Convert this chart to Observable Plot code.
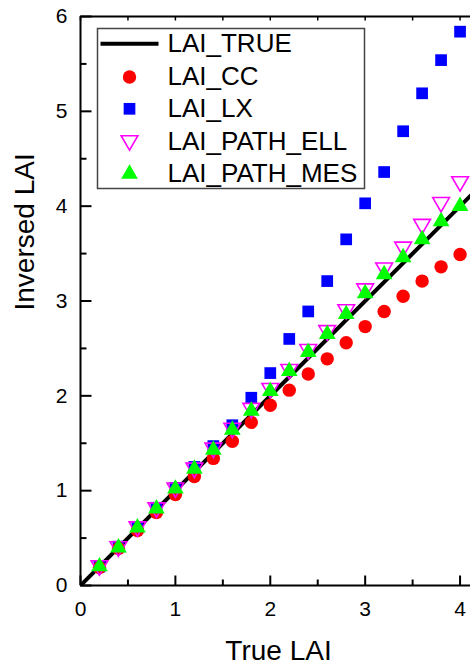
<!DOCTYPE html>
<html><head><meta charset="utf-8">
<script src="https://cdn.jsdelivr.net/npm/d3@7"></script>
<script src="https://cdn.jsdelivr.net/npm/@observablehq/plot@0.6"></script>
<style>body{margin:0;background:#fff}</style>
</head><body><div id="chart"></div>
<script>
// ---- data ----
const trueLAI = [0.2,0.4,0.6,0.8,1.0,1.2,1.4,1.6,1.8,2.0,2.2,2.4,2.6,2.8,3.0,3.2,3.4,3.6,3.8,4.0];
const laiCC   = [0.19,0.39,0.58,0.77,0.96,1.15,1.34,1.52,1.72,1.90,2.06,2.23,2.39,2.56,2.73,2.89,3.05,3.21,3.36,3.49];
const laiLX   = [0.20,0.41,0.61,0.82,1.03,1.25,1.47,1.69,1.98,2.24,2.60,2.89,3.21,3.65,4.03,4.36,4.79,5.19,5.54,5.84];
const laiEll  = [0.21,0.41,0.62,0.82,1.03,1.24,1.45,1.66,1.87,2.08,2.28,2.49,2.69,2.91,3.13,3.35,3.57,3.81,4.04,4.26];
const laiMes  = [0.20,0.40,0.61,0.81,1.02,1.23,1.43,1.64,1.84,2.05,2.26,2.46,2.65,2.86,3.08,3.28,3.46,3.65,3.84,4.00];
const trueLine = [0, 4.2];
const xDomain = [0, 4.11];
const yDomain = [0, 6];
const xTicks = [0,1,2,3,4];
const xMinor = [0.5,1.5,2.5,3.5];
const yTicks = [0,1,2,3,4,5,6];
const yMinor = [0.5,1.5,2.5,3.5,4.5,5.5];
const legendLabels = ["LAI_TRUE","LAI_CC","LAI_LX","LAI_PATH_ELL","LAI_PATH_MES"];
const xTitle = "True LAI";
const yTitle = "Inversed LAI";

const rows = trueLAI.map((t,i)=>({t, cc: laiCC[i], lx: laiLX[i], ell: laiEll[i], mes: laiMes[i]}));

// custom segment symbols (for inward ticks and legend line)
const seg = (x1,y1,x2,y2)=>({draw(ctx){ctx.moveTo(x1,y1); ctx.lineTo(x2,y2);}});

const font = "'Liberation Sans', Arial, sans-serif";

const chart = Plot.plot({
  width: 470, height: 666,
  marginLeft: 80, marginRight: 0, marginTop: 16, marginBottom: 81,
  style: {fontFamily: font, background: "white", color: "black"},
  x: {domain: xDomain},
  y: {domain: yDomain},
  marks: [
    // data
    Plot.line(trueLine, {x: d=>d, y: d=>d, stroke: "black", strokeWidth: 4, clip: true}),
    Plot.dot(rows, {x: "t", y: "lx", symbol: "square", r: 6.6, fill: "#0000ff", stroke: "none"}),
    Plot.dot(rows, {x: "t", y: "cc", symbol: "circle", r: 6.7, fill: "#ff0000", stroke: "none"}),
    Plot.dot(rows, {x: "t", y: "ell", symbol: "triangle", rotate: 180, r: 6.2, fill: "none", stroke: "#ff00ff", strokeWidth: 1.6}),
    Plot.dot(rows, {x: "t", y: "mes", symbol: "triangle", r: 6.2, fill: "#00ff00", stroke: "none"}),

    // frame lines
    Plot.ruleX([xDomain[0]], {stroke: "black", strokeWidth: 2}),
    Plot.ruleY([yDomain[0]], {stroke: "black", strokeWidth: 2}),
    Plot.ruleY([yDomain[1]], {stroke: "black", strokeWidth: 2}),

    // inward ticks
    Plot.dot(yTicks, {x: xDomain[0], y: d=>d, symbol: seg(0,0,11,0), r: 1, fill: "none", stroke: "black", strokeWidth: 2}),
    Plot.dot(yMinor, {x: xDomain[0], y: d=>d, symbol: seg(0,0,6,0), r: 1, fill: "none", stroke: "black", strokeWidth: 2}),
    Plot.dot(xTicks, {x: d=>d, y: yDomain[0], symbol: seg(0,0,0,-10), r: 1, fill: "none", stroke: "black", strokeWidth: 2}),
    Plot.dot(xMinor, {x: d=>d, y: yDomain[0], symbol: seg(0,0,0,-6), r: 1, fill: "none", stroke: "black", strokeWidth: 2}),
    Plot.dot(xTicks.concat(xMinor), {x: d=>d, y: yDomain[1], symbol: seg(0,0,0,4), r: 1, fill: "none", stroke: "black", strokeWidth: 1.5}),

    // tick labels
    Plot.axisX({ticks: xTicks, tickSize: 0, tickPadding: 16, fontSize: 21, label: null, tickFormat: d=>String(d)}),
    Plot.axisY({ticks: yTicks, tickSize: 0, tickPadding: 13, fontSize: 21, label: null, tickFormat: d=>String(d)}),

    // axis titles
    Plot.text([xTitle], {frameAnchor: "bottom", dx: 3, dy: 74, lineAnchor: "bottom", fontSize: 28, text: d=>d, fill: "black"}),
    Plot.text([yTitle], {frameAnchor: "left", dx: -55, dy: 9.5, rotate: -90, fontSize: 28, text: d=>d, fill: "black"}),

    // legend
    Plot.frame({insetLeft: 17, insetTop: 12, insetRight: 106, insetBottom: 397, stroke: "#444", strokeWidth: 1.5, fill: "white"}),
    Plot.dot([legendLabels[0]], {frameAnchor: "top-left", dx: 49, dy: 27.3, symbol: seg(-29,0,29,0), r: 1, fill: "none", stroke: "black", strokeWidth: 4}),
    Plot.dot([legendLabels[1]], {frameAnchor: "top-left", dx: 49, dy: 60.5, symbol: "circle", r: 6.7, fill: "#ff0000", stroke: "none"}),
    Plot.dot([legendLabels[2]], {frameAnchor: "top-left", dx: 49, dy: 92.3, symbol: "square", r: 6.6, fill: "#0000ff", stroke: "none"}),
    Plot.dot([legendLabels[3]], {frameAnchor: "top-left", dx: 49, dy: 124, symbol: "triangle", rotate: 180, r: 6.2, fill: "none", stroke: "#ff00ff", strokeWidth: 1.6}),
    Plot.dot([legendLabels[4]], {frameAnchor: "top-left", dx: 49, dy: 157.5, symbol: "triangle", r: 6.2, fill: "#00ff00", stroke: "none"}),
    Plot.text([legendLabels.join("\n")], {frameAnchor: "top-left", dx: 87, dy: 12.5, text: d=>d, textAnchor: "start", lineAnchor: "top", lineHeight: 1.25, fontSize: 26, fill: "black"})
  ]
});
document.getElementById("chart").appendChild(chart);
</script>
</body></html>
